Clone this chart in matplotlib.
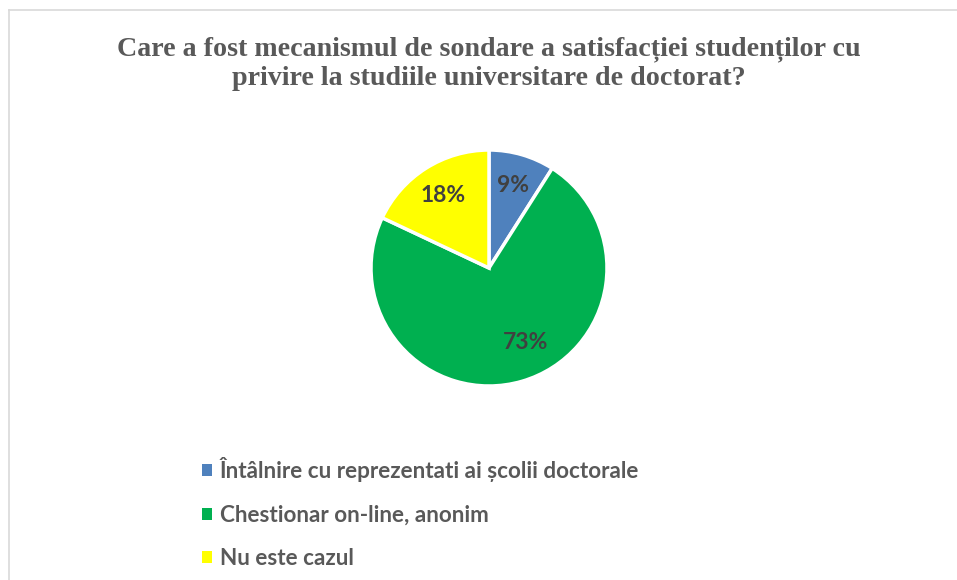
import matplotlib
matplotlib.use("Agg")
import numpy as np
import matplotlib.pyplot as plt
from matplotlib.patches import Rectangle
from matplotlib.lines import Line2D

title = "Care a fost mecanismul de sondare a satisfacției studenților cu\nprivire la studiile universitare de doctorat?"
categories = ["Întâlnire cu reprezentati ai școlii doctorale",
              "Chestionar on-line, anonim",
              "Nu este cazul"]
values = [9, 73, 18]
colors = ["#4F81BD", "#00B050", "#FFFF00"]

W, H = 957, 580
fig = plt.figure(figsize=(W / 100, H / 100), dpi=100)
fig.patch.set_facecolor("white")

# frame lines (top and left)
fig.add_artist(Line2D([9 / W, 1], [1 - 10 / H, 1 - 10 / H], color="#D9D9D9", lw=1.2))
fig.add_artist(Line2D([9 / W, 9 / W], [0, 1 - 10 / H], color="#D9D9D9", lw=1.2))

fig.text(489 / W, 1 - 64 / H, title, ha="center", va="center",
         fontsize=20.2, fontweight="bold", family="Liberation Serif",
         color="#595959", linespacing=1.2)

cx, cy, r = 489, 268, 118
ax = fig.add_axes([(cx - r) / W, (H - cy - r) / H, 2 * r / W, 2 * r / H])
wedges, texts, autotexts = ax.pie(
    values, colors=colors, startangle=90, counterclock=False,
    autopct=lambda p: f"{p:.0f}%", pctdistance=0.73,
    wedgeprops=dict(edgecolor="white", linewidth=2.5),
    textprops=dict(fontsize=16.5, fontweight="bold", family="Lato", color="#404040"))
# Excel-like placement of the large slice label (shifted toward the slice's right side)
ang = np.deg2rad(-64)
autotexts[1].set_position((0.70 * np.cos(ang), 0.70 * np.sin(ang)))
ax.set_xlim(-1, 1)
ax.set_ylim(-1, 1)
ax.set_aspect("equal")
ax.axis("off")

handles = [Rectangle((0, 0), 1, 1, facecolor=c, edgecolor="none") for c in colors]
leg = fig.legend(handles, categories, loc="upper left",
                 bbox_to_anchor=(182 / W, 1 - 437 / H),
                 frameon=False, handlelength=0.42, handleheight=0.42,
                 handletextpad=0.36, labelspacing=1.0,
                 prop=dict(size=16.2, weight="bold", family="Lato"))
for t in leg.get_texts():
    t.set_color("#595959")

fig.savefig("out.png", dpi=100, facecolor="white")
